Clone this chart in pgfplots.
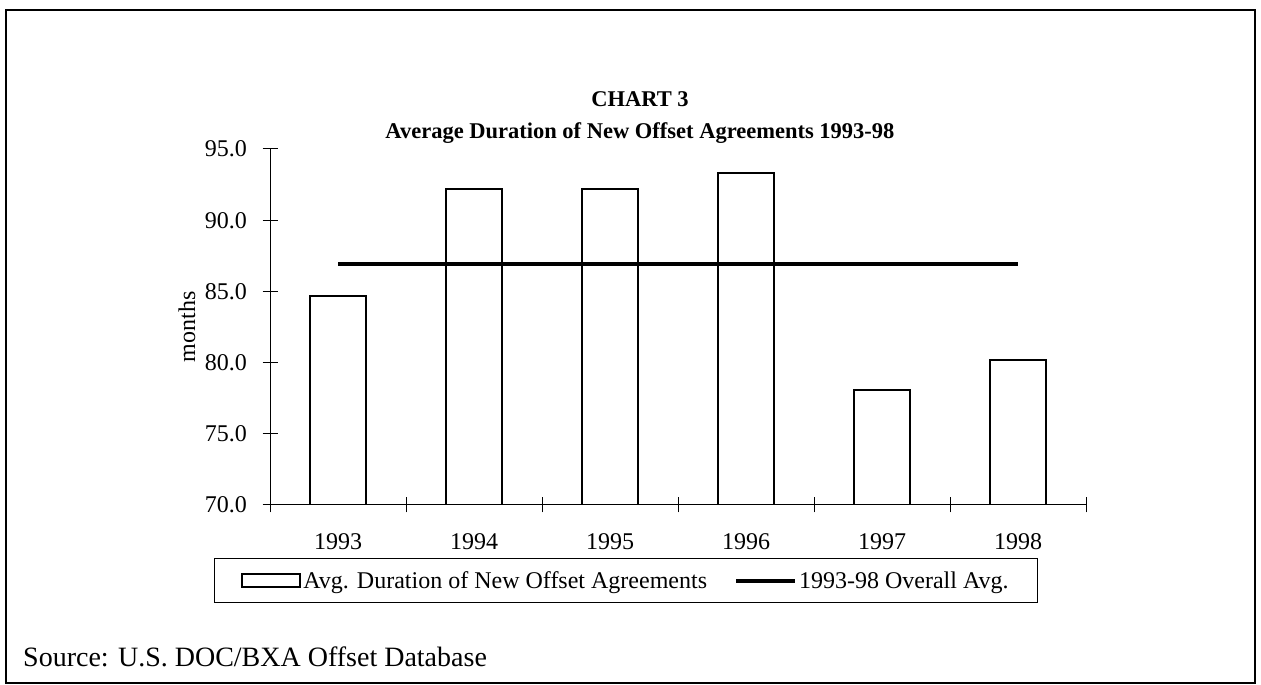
\documentclass[border=0pt]{standalone}
\usepackage{fontspec}
\setmainfont{Liberation Serif}
\usepackage{pgfplots}
\pgfplotsset{compat=1.18}
\begin{document}
\begin{tikzpicture}[x=1pt,y=1pt]
\path[use as bounding box] (0,0) rectangle (1261,685);
\draw[line width=2pt] (6,2) rectangle (1255,675);
\begin{axis}[
  at={(270pt,180pt)}, anchor=south west,
  scale only axis, width=816pt, height=356pt,
  xmin=-0.5, xmax=5.5, ymin=70, ymax=95,
  axis x line*=bottom, axis y line*=left,
  axis line style={line width=1pt, -},
  tick align=center, major tick length=15pt, minor tick length=15pt,
  tick style={line width=1pt, black},
  ytick={70,75,...,95},
  xtick={0,1,2,3,4,5},
  xticklabels={1993,1994,1995,1996,1997,1998},
  minor xtick={-0.5,0.5,...,5.5},
  major x tick style={draw=none},
  xticklabel style={anchor=base, yshift=-37pt},
  yticklabel style={xshift=-12pt},
  /pgf/number format/assume math mode=true,
  yticklabel style={/pgf/number format/.cd, fixed, fixed zerofill, precision=1},
  tick label style={font=\fontsize{24}{28}\selectfont},
  ylabel={months},
  ylabel style={at={(axis description cs:-0.1017,0.5)}, anchor=center, rotate=0, font=\fontsize{24}{28}\selectfont},
  title={CHART 3\\[2pt]Average Duration of New Offset Agreements 1993-98},
  title style={at={(axis description cs:0.4534,1)}, anchor=south, align=center, font=\bfseries\fontsize{22.5}{30}\selectfont, yshift=-4pt},
  legend columns=2,
  legend style={at={(0.4363,-0.2121)}, anchor=center, draw=black, line width=1.2pt,
    font=\fontsize{24}{28}\selectfont, inner xsep=27pt, inner ysep=11pt,
    /tikz/every even column/.append style={column sep=25pt}},
]
\addplot[ybar, bar width=56pt, fill=white, draw=black, line width=2.2pt,
  legend image code/.code={\draw[line width=2pt, fill=white] (0pt,-6.5pt) rectangle (58pt,6.5pt);}]
  coordinates {(0,84.7) (1,92.2) (2,92.2) (3,93.3) (4,78.1) (5,80.2)};
\addlegendentry{Avg. Duration of New Offset Agreements}
\addplot[black, line width=4pt,
  legend image code/.code={\draw[line width=4pt] (0pt,0pt) -- (59pt,0pt);}]
  coordinates {(0,86.9) (5,86.9)};
\addlegendentry{1993-98 Overall Avg.}
\end{axis}
\node[anchor=west, inner sep=0pt, font=\fontsize{28}{32}\selectfont] at (23,28) {Source: U.S. DOC/BXA Offset Database};
\end{tikzpicture}
\end{document}
